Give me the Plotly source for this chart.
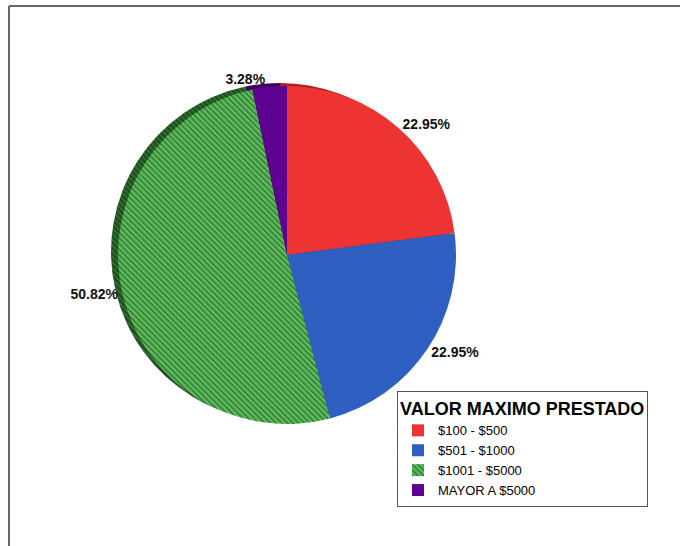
import plotly.graph_objects as go

categories = ["$100 - $500", "$501 - $1000", "$1001 - $5000", "MAYOR A $5000"]
counts = [14, 14, 31, 2]
face_colors = ["#ee3333", "#2f5fc0", "#5cc05c", "#5e0090"]
side_colors = ["#a82020", "#1f3f8a", "#2e6e2e", "#3e0060"]
legend_title = "VALOR MAXIMO PRESTADO"

W, H = 680, 546
cx, cy, r = 287, 255, 169
dx, dy = -7, -3


def dom(cx, cy):
    return dict(x=[(cx - r) / W, (cx + r) / W],
                y=[(H - cy - r) / H, (H - cy + r) / H])


fig = go.Figure()
fig.add_trace(go.Pie(
    labels=categories, values=counts, sort=False, direction="clockwise", rotation=0,
    domain=dom(cx + dx, cy + dy), textinfo="none", hoverinfo="skip", showlegend=False,
    marker=dict(colors=side_colors, line=dict(width=0),
                pattern=dict(shape=["", "", "\\", ""], fgcolor="#0c1a0c", bgcolor=side_colors,
                             fillmode="overlay", size=4, solidity=0.45)),
))
fig.add_trace(go.Pie(
    labels=categories, values=counts, sort=False, direction="clockwise", rotation=0,
    domain=dom(cx, cy), textposition="outside", texttemplate="<b>%{percent:.2%}</b>",
    textfont=dict(family="Arial", size=14, color="#111111"),
    marker=dict(colors=face_colors, line=dict(width=0),
                pattern=dict(shape=["", "", "\\", ""], fgcolor="#123012", bgcolor=face_colors,
                             fillmode="overlay", size=4, solidity=0.4)),
))

fig.update_layout(
    width=W, height=H, margin=dict(l=0, r=0, t=0, b=0),
    paper_bgcolor="white", plot_bgcolor="white",
    font=dict(family="Arial", color="black"),
    legend=dict(
        title=dict(text="<b>" + legend_title + "</b>", font=dict(family="Arial", size=18, color="black")),
        font=dict(family="Arial", size=13, color="black"),
        x=397 / W, y=1 - 391 / H, xanchor="left", yanchor="top",
        bordercolor="#555555", borderwidth=1, bgcolor="white",
        itemwidth=30, tracegroupgap=0,
    ),
    shapes=[
        dict(type="line", xref="paper", yref="paper", x0=9 / W, x1=1.0, y0=1 - 6 / H, y1=1 - 6 / H,
             line=dict(color="#666666", width=2)),
        dict(type="line", xref="paper", yref="paper", x0=9 / W, x1=9 / W, y0=0, y1=1 - 6 / H,
             line=dict(color="#666666", width=2)),
    ],
)

fig.write_html("out.html")
